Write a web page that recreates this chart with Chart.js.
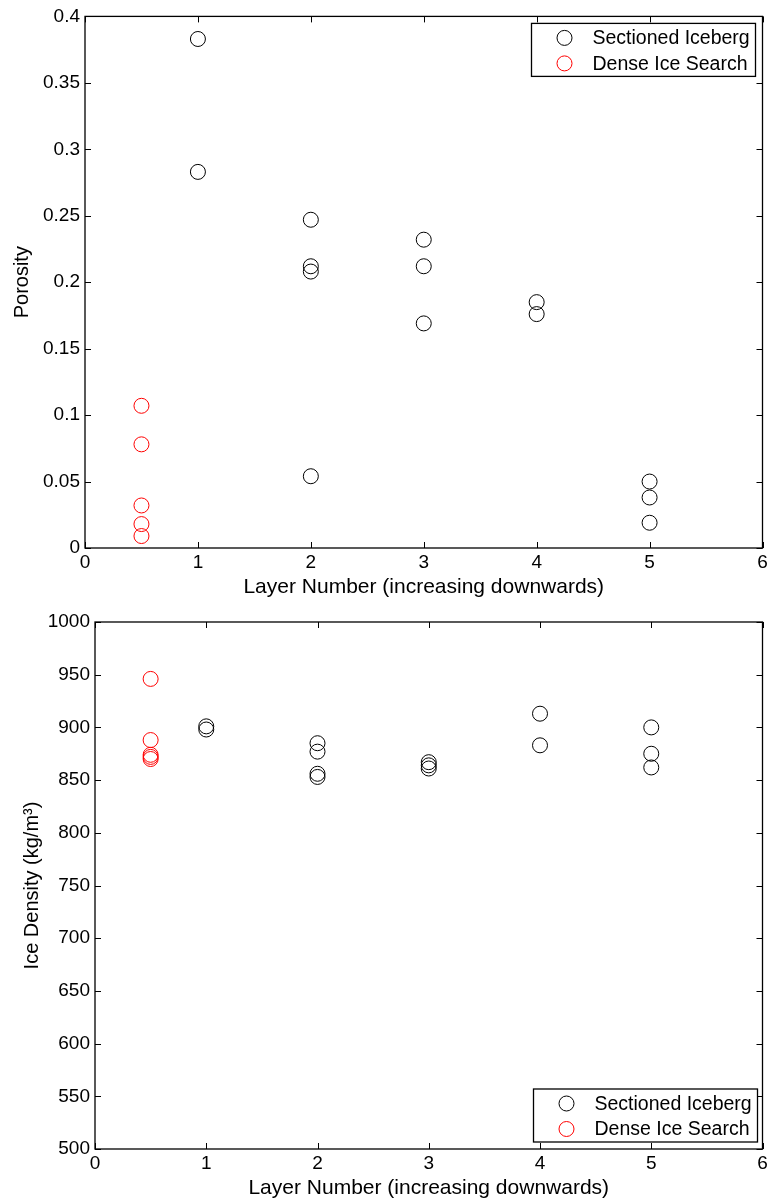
<!DOCTYPE html>
<html>
<head>
<meta charset="utf-8">
<script src="https://cdn.jsdelivr.net/npm/chart.js@4"></script>
<style>
  body { margin: 0; background: #fff; }
  canvas { display: block; }
</style>
</head>
<body>
<canvas id="porosityChart" width="771" height="600"></canvas>
<canvas id="densityChart" width="771" height="602"></canvas>
<script>
// layer numbers and values
const sectionedLayers = [1, 1, 2, 2, 2, 2, 3, 3, 3, 4, 4, 5, 5, 5];
const sectionedPorosity = [0.383, 0.283, 0.247, 0.212, 0.208, 0.054, 0.232, 0.212, 0.169, 0.185, 0.176, 0.050, 0.038, 0.019];
const sectionedDensity = [901, 898, 885, 877, 856, 853, 867, 864, 861, 913, 883, 900, 875, 862];

const denseLayers = [0.5, 0.5, 0.5, 0.5, 0.5];
const densePorosity = [0.107, 0.078, 0.032, 0.018, 0.009];
const denseDensity = [946, 888, 874, 872, 870];

const seriesNames = ['Sectioned Iceberg', 'Dense Ice Search'];
const layerTicks = [0, 1, 2, 3, 4, 5, 6];
const porosityTicks = ['0', '0.05', '0.1', '0.15', '0.2', '0.25', '0.3', '0.35', '0.4'];
const densityTicks = ['500', '550', '600', '650', '700', '750', '800', '850', '900', '950', '1000'];

const FONT = "'Liberation Sans', Arial, Helvetica, sans-serif";

function points(xs, ys) {
    return xs.map((x, i) => ({ x: x, y: ys[i] }));
}

// box round the axes, inward ticks on all sides, legend in a corner
const matlabAxes = {
    id: 'matlabAxes',
    afterDraw(chart, args, opts) {
        const ctx = chart.ctx;
        const a = chart.chartArea;
        const xs = chart.scales.x, ys = chart.scales.y;
        ctx.save();
        ctx.strokeStyle = '#000';
        ctx.lineWidth = 1.3;
        ctx.strokeRect(a.left, a.top, a.right - a.left, a.bottom - a.top);
        ctx.lineWidth = 1;
        ctx.beginPath();
        xs.ticks.forEach(t => {
            const px = Math.round(xs.getPixelForValue(t.value)) + 0.5;
            ctx.moveTo(px, a.bottom); ctx.lineTo(px, a.bottom - 6);
            ctx.moveTo(px, a.top); ctx.lineTo(px, a.top + 6);
        });
        ys.ticks.forEach(t => {
            const py = Math.round(ys.getPixelForValue(t.value)) + 0.5;
            ctx.moveTo(a.left, py); ctx.lineTo(a.left + 6, py);
            ctx.moveTo(a.right, py); ctx.lineTo(a.right - 6, py);
        });
        ctx.stroke();

        // legend
        const w = 224, h = 53;
        const lx = a.right - opts.right - w;
        const ly = opts.corner === 'top' ? a.top + opts.offset : a.bottom - opts.offset - h;
        ctx.fillStyle = '#fff';
        ctx.fillRect(lx, ly, w, h);
        ctx.lineWidth = 1.3;
        ctx.strokeRect(lx, ly, w, h);
        ctx.font = '19.5px ' + FONT;
        ctx.textBaseline = 'middle';
        ctx.textAlign = 'left';
        chart.data.datasets.forEach((ds, i) => {
            const cy = ly + 14.5 + i * 25.5;
            ctx.beginPath();
            ctx.arc(lx + 33, cy, 7.5, 0, Math.PI * 2);
            ctx.strokeStyle = ds.borderColor;
            ctx.lineWidth = 1;
            ctx.stroke();
            ctx.fillStyle = '#000';
            ctx.fillText(ds.label, lx + 61, cy + 1);
        });
        ctx.restore();
    }
};

function makeChart(id, sectionedY, denseY, yMin, yMax, yStep, yLabels, yTitle, cfg) {
    return new Chart(document.getElementById(id), {
        type: 'scatter',
        data: {
            datasets: [
                {
                    label: seriesNames[0],
                    data: points(sectionedLayers, sectionedY),
                    borderColor: '#000000',
                    backgroundColor: 'rgba(0,0,0,0)',
                    pointRadius: 7.5,
                    pointBorderWidth: 1
                },
                {
                    label: seriesNames[1],
                    data: points(denseLayers, denseY),
                    borderColor: '#ff0000',
                    backgroundColor: 'rgba(0,0,0,0)',
                    pointRadius: 7.5,
                    pointBorderWidth: 1
                }
            ]
        },
        options: {
            responsive: false,
            animation: false,
            layout: { padding: { top: cfg.top, right: cfg.right, left: 0, bottom: 0 } },
            plugins: {
                legend: { display: false },
                tooltip: { enabled: false },
                matlabAxes: cfg.legend
            },
            scales: {
                x: {
                    type: 'linear',
                    min: 0, max: 6,
                    afterBuildTicks: s => { s.ticks = layerTicks.map(v => ({ value: v })); },
                    afterFit: s => { s.height = cfg.xHeight; },
                    grid: { display: false, drawTicks: false },
                    border: { display: false },
                    ticks: { color: '#000', padding: 3, font: { family: FONT, size: 19 }, callback: v => String(v) },
                    title: { display: true, text: 'Layer Number (increasing downwards)', color: '#000', padding: { top: 0, bottom: cfg.xTitlePad }, font: { family: FONT, size: 21 } }
                },
                y: {
                    type: 'linear',
                    min: yMin, max: yMax,
                    afterBuildTicks: s => { s.ticks = yLabels.map((l, i) => ({ value: yMin + i * yStep })); },
                    afterFit: s => { s.width = cfg.yWidth; },
                    grid: { display: false, drawTicks: false },
                    border: { display: false },
                    ticks: { color: '#000', padding: 5, font: { family: FONT, size: 19 }, callback: (v, i) => yLabels[i] },
                    title: { display: true, text: yTitle, color: '#000', padding: { top: cfg.yTitlePad, bottom: 0 }, font: { family: FONT, size: 20 } }
                }
            }
        },
        plugins: [matlabAxes]
    });
}

makeChart('porosityChart', sectionedPorosity, densePorosity, 0, 0.4, 0.05, porosityTicks, 'Porosity',
    { top: 13, right: 7, xHeight: 52, yWidth: 85, xTitlePad: 0, yTitlePad: 10,
      legend: { corner: 'top', right: 7, offset: 7 } });

makeChart('densityChart', sectionedDensity, denseDensity, 500, 1000, 50, densityTicks, 'Ice Density (kg/m\u00B3)',
    { top: 22, right: 5, xHeight: 53, yWidth: 95, xTitlePad: 1, yTitlePad: 20,
      legend: { corner: 'bottom', right: 5, offset: 7 } });
</script>
</body>
</html>
